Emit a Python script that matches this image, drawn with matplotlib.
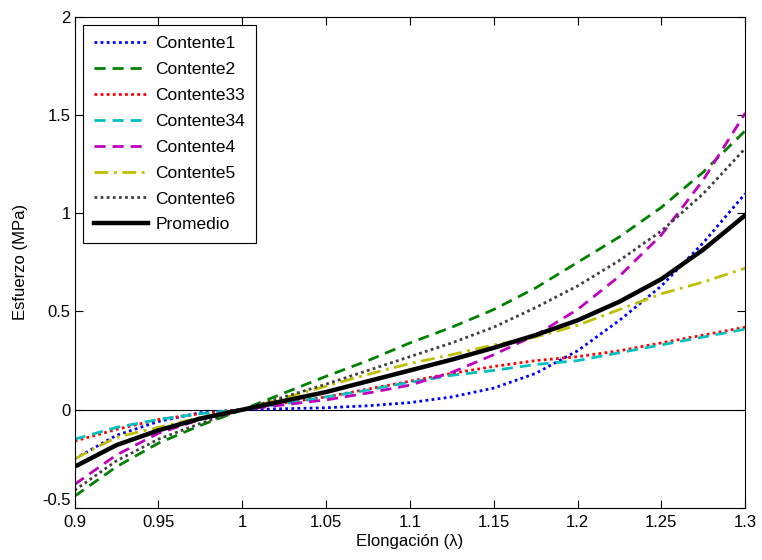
"""Stress vs stretch curves for each sample and their average."""

import matplotlib

matplotlib.use("Agg")
import matplotlib.pyplot as plt
from matplotlib.ticker import FuncFormatter

plt.rcParams["font.family"] = ["Liberation Sans", "DejaVu Sans"]

# stretch values where the curves were read
stretch = [0.9, 0.925, 0.95, 0.975, 1.0, 1.025, 1.05, 1.075, 1.1,
           1.125, 1.15, 1.175, 1.2, 1.225, 1.25, 1.275, 1.3]

contente1 = [-0.25, -0.13, -0.06, -0.015, 0, 0.005, 0.01, 0.02, 0.036,
             0.065, 0.11, 0.185, 0.30, 0.455, 0.63, 0.85, 1.10]
contente2 = [-0.44, -0.29, -0.17, -0.08, 0, 0.085, 0.17, 0.25, 0.34,
             0.42, 0.51, 0.62, 0.75, 0.88, 1.03, 1.21, 1.42]
contente33 = [-0.16, -0.10, -0.05, -0.02, 0, 0.035, 0.065, 0.105, 0.145,
              0.185, 0.22, 0.25, 0.27, 0.30, 0.34, 0.38, 0.42]
contente34 = [-0.15, -0.09, -0.05, -0.02, 0, 0.03, 0.065, 0.10, 0.14,
              0.175, 0.20, 0.23, 0.25, 0.29, 0.33, 0.37, 0.41]
contente4 = [-0.38, -0.23, -0.12, -0.05, 0, 0.025, 0.05, 0.085, 0.125,
             0.19, 0.28, 0.38, 0.51, 0.68, 0.89, 1.17, 1.51]
contente5 = [-0.25, -0.14, -0.09, -0.04, 0, 0.06, 0.12, 0.18, 0.235,
             0.28, 0.33, 0.37, 0.43, 0.51, 0.59, 0.65, 0.72]
contente6 = [-0.41, -0.26, -0.15, -0.07, 0, 0.065, 0.13, 0.20, 0.27,
             0.34, 0.42, 0.52, 0.63, 0.76, 0.91, 1.10, 1.33]
promedio = [-0.29, -0.18, -0.105, -0.045, 0, 0.045, 0.09, 0.145, 0.20,
            0.255, 0.315, 0.38, 0.455, 0.55, 0.665, 0.815, 0.99]

series = [
    ("Contente1", contente1, "#0000ff", (0, (1, 1.2)), 2.0),
    ("Contente2", contente2, "#008000", (0, (4, 2.5)), 2.0),
    ("Contente33", contente33, "#ff0000", (0, (1, 1.2)), 2.0),
    ("Contente34", contente34, "#00bfbf", (0, (4, 2.5)), 2.0),
    ("Contente4", contente4, "#bf00bf", (0, (4, 2.5)), 2.0),
    ("Contente5", contente5, "#bfbf00", (0, (5, 2, 1, 2)), 2.0),
    ("Contente6", contente6, "#404040", (0, (1, 1.2)), 2.0),
    ("Promedio", promedio, "black", "-", 3.2),
]

fig = plt.figure(figsize=(7.62, 5.6), dpi=100)
ax = fig.add_axes([0.098, 0.093, 0.88, 0.877])

ax.axhline(0, color="black", linewidth=0.8)
for name, values, color, style, width in series:
    ax.plot(stretch, values, color=color, linestyle=style, linewidth=width, label=name)

ax.set_xlim(0.9, 1.3)
ax.set_ylim(-0.5, 2)
ax.set_xticks([0.9, 0.95, 1.0, 1.05, 1.1, 1.15, 1.2, 1.25, 1.3])
ax.set_yticks([-0.5, 0, 0.5, 1, 1.5, 2])
fmt = FuncFormatter(lambda v, _: f"{v:g}")
ax.xaxis.set_major_formatter(fmt)
ax.yaxis.set_major_formatter(fmt)
ax.tick_params(direction="in", top=True, right=True, labelsize=12, length=6)
ax.tick_params(axis="x", pad=5)
ax.tick_params(axis="y", pad=3)
# lift the bottom y label a little so it clears the first x label
ax.get_yticklabels()[0].set_verticalalignment("bottom")
for spine in ax.spines.values():
    spine.set_linewidth(0.8)

ax.set_xlabel("Elongación (λ)", fontsize=12, labelpad=3)
ax.set_ylabel("Esfuerzo (MPa)", fontsize=12, labelpad=10)

leg = ax.legend(loc="upper left", fontsize=12.5, fancybox=False, framealpha=1,
                edgecolor="black", handlelength=3.1, borderaxespad=0.5,
                labelspacing=0.62, handletextpad=0.45, borderpad=0.6)
leg.get_frame().set_linewidth(0.8)

fig.savefig("out.png", dpi=100)
plt.close(fig)
